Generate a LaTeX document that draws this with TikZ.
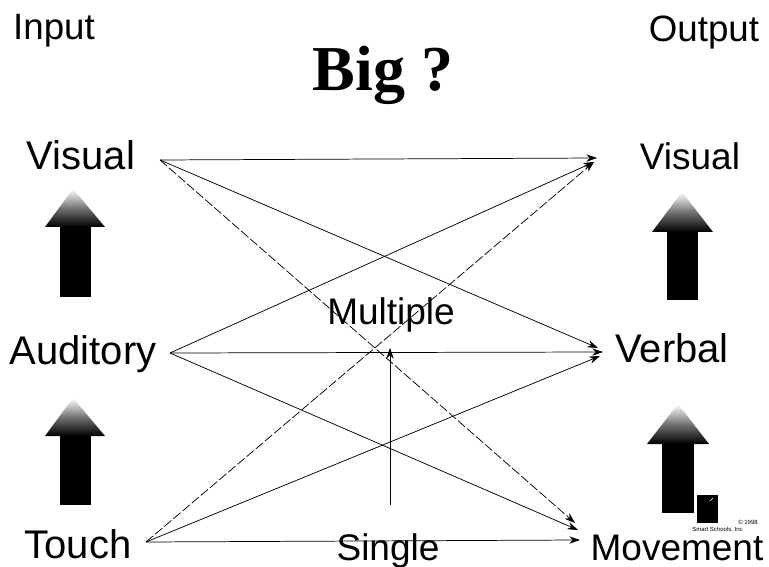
\documentclass[tikz,border=0pt]{standalone}
\usepackage{fontspec}
\setmainfont{Liberation Sans}
\newfontfamily\timesf{Liberation Serif}
\usetikzlibrary{arrows.meta}
\begin{document}
\begin{tikzpicture}[x=0.75pt,y=-0.75pt,
  lbl/.style={font=\fontsize{27.75}{30}\selectfont, anchor=base, inner sep=0pt},
  lblL/.style={font=\fontsize{30}{32}\selectfont, anchor=base, inner sep=0pt},
  hdr/.style={font=\fontsize{27.5}{30}\selectfont, anchor=base, inner sep=0pt},
  link/.style={line width=0.55pt, -{Stealth[length=8pt,width=5.5pt]}},
  dlink/.style={link, dash pattern=on 7pt off 2pt},
  shaft/.style={fill=black},
  head/.style={top color=white, bottom color=black, middle color=black!55},
]
\useasboundingbox (0,0) rectangle (769,567);
\fill[white] (0,0) rectangle (769,567);

% titles
\node[hdr] (input) at (54,40) {Input};
\node[hdr] (output) at (704,42) {Output};
\node[anchor=base, inner sep=0pt, font=\timesf\bfseries\fontsize{48}{50}\selectfont] (big) at (383,91) {Big ?};

% labels
\node[lblL] (visin) at (81,170) {Visual};
\node[lblL] (audin) at (83,364) {Auditory};
\node[lblL] (touin) at (78,558) {Touch};
\node[lbl] (visout) at (690,170) {Visual};
\node[lblL] (verout) at (672,363) {Verbal};
\node[lbl] (movout) at (677,560) {Movement};
\node[lbl] (mult) at (391,325) {Multiple};
\node[lbl] (single) at (388,560) {Single};

% connector points
\coordinate (vi) at (160,160);
\coordinate (ai) at (170,353);
\coordinate (ti) at (146,542);
\coordinate (vo) at (597,158);
\coordinate (vo2) at (594,162);
\coordinate (vbo) at (603,352);
\coordinate (vbo2) at (600,356);
\coordinate (vbo3) at (598,348);
\coordinate (mo) at (580,540);
\coordinate (mo2) at (578,530);
\coordinate (mo3) at (575,523);
\coordinate (sb) at (390,505);
\coordinate (st) at (390,348);

% connectors
\draw[link] (vi) -- (vo);
\draw[link] (vi) -- (vbo3);
\draw[dlink] (vi) -- (mo3);
\draw[link] (ai) -- (vo2);
\draw[link] (ai) -- (vbo);
\draw[link] (ai) -- (mo2);
\draw[dlink] (ti) -- (vo2);
\draw[link] (ti) -- (vbo2);
\draw[link] (ti) -- (mo);
\draw[link] (sb) -- (st);

% block arrows
\fill[shaft] (60,226) rectangle (91,297);
\shade[head] (45,227) -- (73,189) -- (105,227) -- cycle;
\fill[shaft] (60,435) rectangle (91,505);
\shade[head] (45,436) -- (73,398) -- (105,436) -- cycle;
\fill[shaft] (667,231) rectangle (698,300);
\shade[head] (652,232) -- (682,192) -- (713,232) -- cycle;
\fill[shaft] (662,443) rectangle (694,513);
\shade[head] (647,444) -- (678,404) -- (709,444) -- cycle;
\fill[black] (697,495) rectangle (718,523);
\draw[white, line width=0.5pt] (710,501) -- (713,498);
\node[anchor=base west, inner sep=0pt, font=\fontsize{4.5}{5}\selectfont] (copy) at (738,524) {\textcopyright\ 1998};
\node[anchor=base west, inner sep=0pt, font=\fontsize{4.5}{5}\selectfont] (smart) at (692,531) {Smart Schools, Inc};
\end{tikzpicture}
\end{document}
